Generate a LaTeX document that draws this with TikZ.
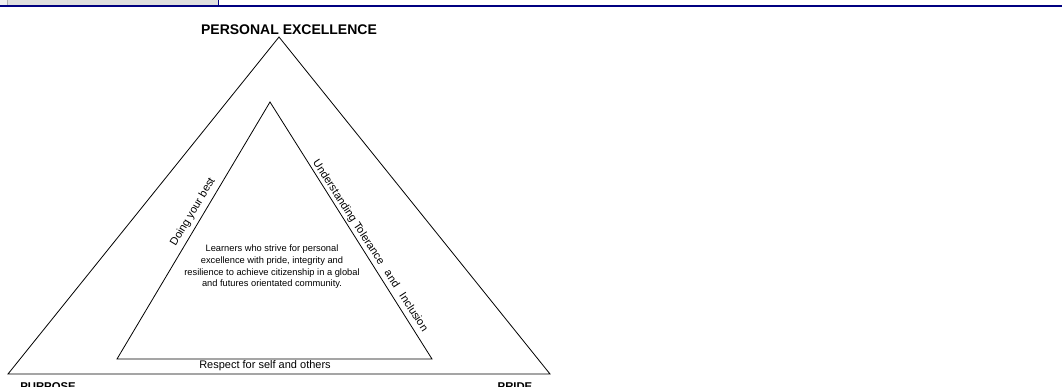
\documentclass[tikz,border=0pt]{standalone}
\usepackage{fontspec}
\setmainfont{Liberation Sans}
\begin{document}
\begin{tikzpicture}[x=1pt,y=-1pt,
  edge/.style={draw=black,line width=0.8pt,line join=miter},
  title/.style={font=\fontsize{14}{16}\selectfont\bfseries},
  corner/.style={font=\fontsize{11.3}{13}\selectfont\bfseries},
  sidelabel/.style={font=\fontsize{11}{13}\selectfont,inner sep=0pt},
  body/.style={font=\fontsize{9.3}{11.7}\selectfont,align=center,inner sep=0pt}]
  \useasboundingbox (0,0) rectangle (1062,387);
  % header strip
  \fill[gray!25] (0,0) rectangle (218,5.5);
  \fill[gray!12] (0,0) rectangle (7,5.5);
  \draw[gray!60,line width=0.6pt] (7,0) -- (7,5.5);
  \draw[blue!50!black,line width=1pt] (218,0) -- (218,5.5);
  \draw[blue!50!black,line width=2pt] (0,6) -- (1062,6);

  % triangle corners
  \coordinate (oa) at (279,37);
  \coordinate (ol) at (8,374);
  \coordinate (or) at (550,374);
  \coordinate (ia) at (270,102);
  \coordinate (il) at (117,359);
  \coordinate (ir) at (432,359);

  \draw[edge] (oa) -- (ol) -- (or) -- cycle;
  \draw[edge] (ia) -- (il) -- (ir) -- cycle;

  % corner titles
  \node[title] (top) at (289,30) {PERSONAL EXCELLENCE};
  \node[corner] (purpose) at (48,387) {PURPOSE};
  \node[corner] (pride) at (515,387) {PRIDE};

  % side labels
  \node[sidelabel,rotate=59.2] (best) at (193,212) {Doing your best};
  \node[sidelabel,rotate=-57] (understand) at (370,246)
    {Understanding Tolerance\hspace{9pt}and\hspace{9pt}Inclusion};
  \node[sidelabel] (respect) at (265,366) {Respect for self and others};

  % centre statement
  \node[body] (statement) at (272,267)
    {Learners who strive for personal\\
     excellence with pride, integrity and\\
     resilience to achieve citizenship in a global\\
     and futures orientated community.};
\end{tikzpicture}
\end{document}
